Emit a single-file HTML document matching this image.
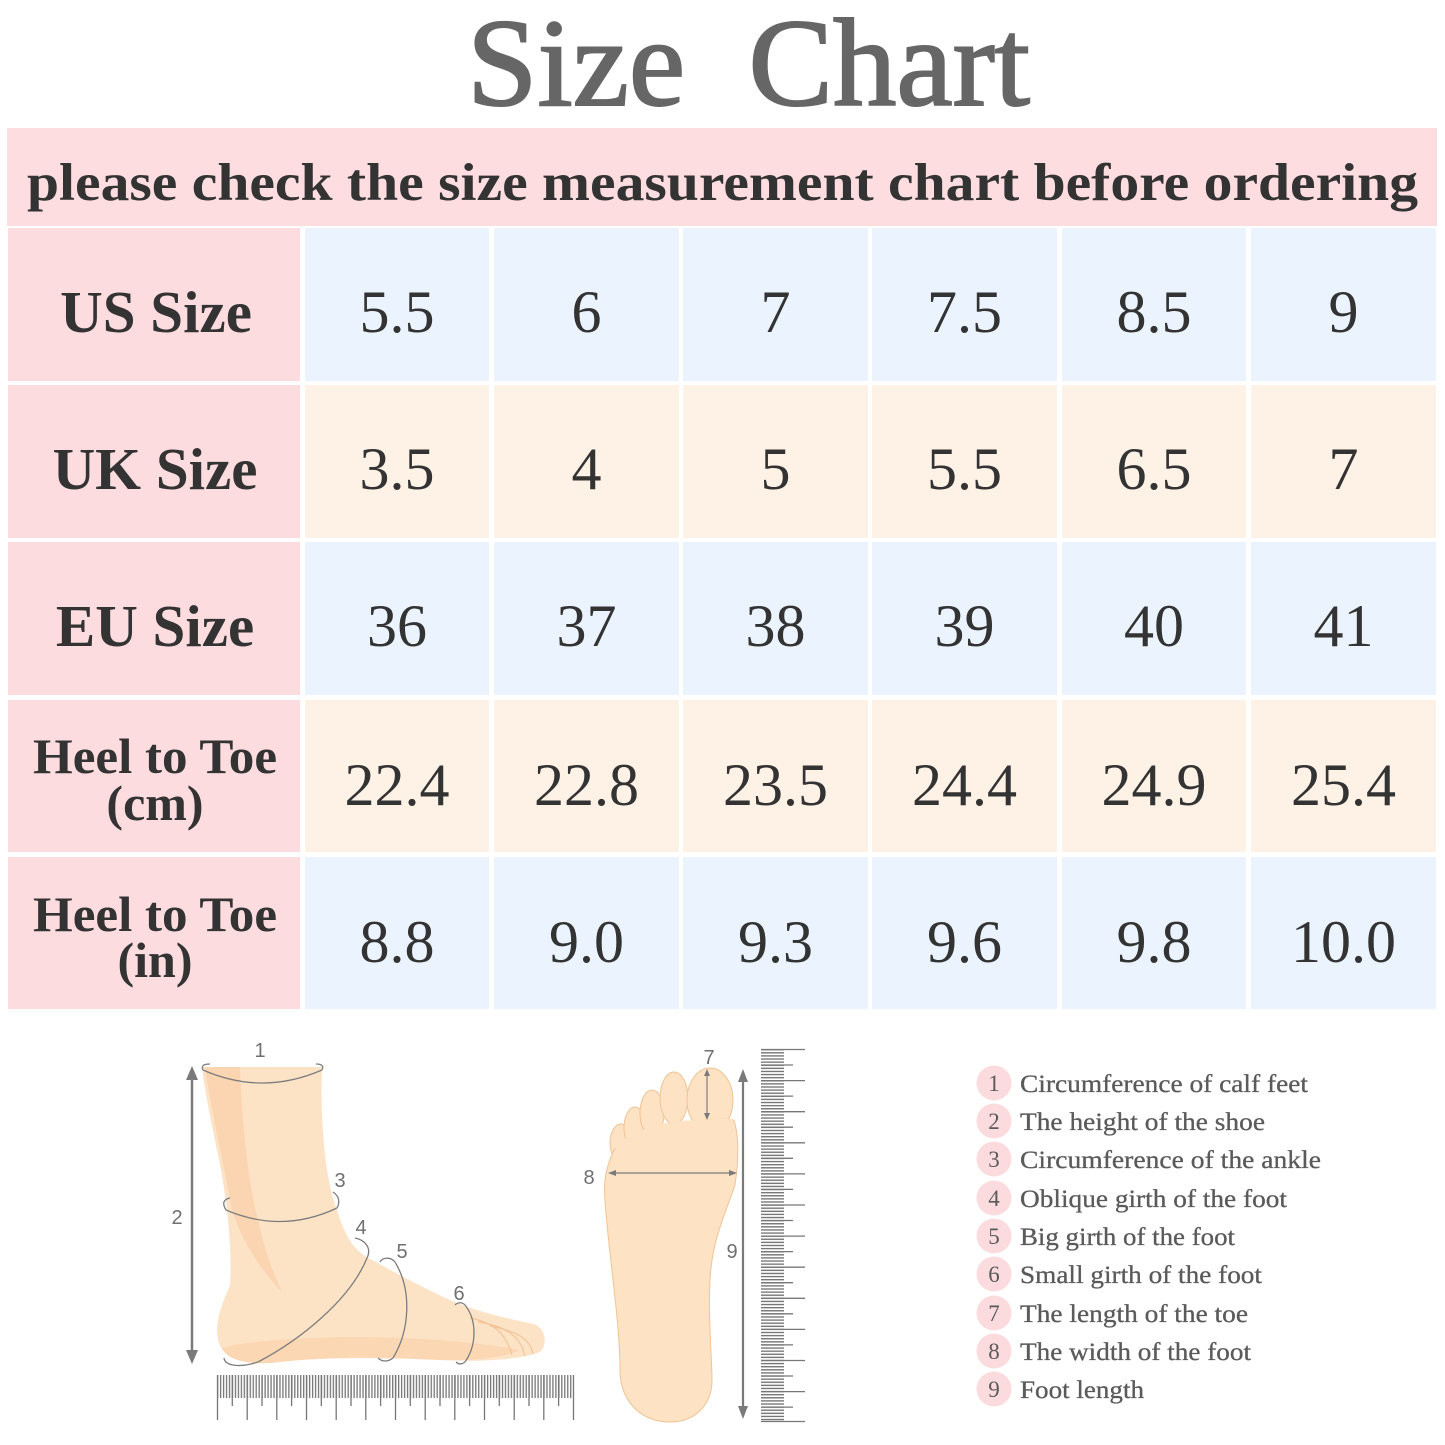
<!DOCTYPE html>
<html><head><meta charset="utf-8"><style>
html,body{margin:0;padding:0;background:#fff;}
svg{display:block;}
</style></head><body>
<svg xmlns="http://www.w3.org/2000/svg" width="1445" height="1445" viewBox="0 0 1445 1445">
<defs>
<pattern id="hticks" x="217" y="0" width="2.967" height="1445" patternUnits="userSpaceOnUse">
<rect x="0" y="0" width="1.3" height="1445" fill="#777"/>
</pattern>
<pattern id="vticks" x="0" y="1049" width="1445" height="3.108" patternUnits="userSpaceOnUse">
<rect x="0" y="0" width="1445" height="1.4" fill="#777"/>
</pattern>
</defs>
<rect width="1445" height="1445" fill="#fff"/>

<!-- Title -->
<text x="467" y="105" font-family="Liberation Serif, serif" font-size="125" fill="#666" stroke="#666" stroke-width="2" textLength="563" lengthAdjust="spacingAndGlyphs" xml:space="preserve">Size  Chart</text>

<!-- Subtitle band -->
<rect x="7" y="128" width="1430" height="98" fill="#fddde0"/>
<text x="27" y="200" font-family="Liberation Serif, serif" font-weight="bold" font-size="53" fill="#333" textLength="1391" lengthAdjust="spacingAndGlyphs">please check the size measurement chart before ordering</text>

<!-- Table -->
<g font-family="Liberation Serif, serif" fill="#333">
<rect x="8" y="228" width="292" height="153" fill="#fddcdf"/>
<rect x="8" y="385" width="292" height="153" fill="#fddcdf"/>
<rect x="8" y="542" width="292" height="153" fill="#fddcdf"/>
<rect x="8" y="700" width="292" height="152" fill="#fddcdf"/>
<rect x="8" y="857" width="292" height="152" fill="#fddcdf"/>

<g fill="#ebf4fe">
<rect x="305" y="228" width="184" height="153"/><rect x="494" y="228" width="185" height="153"/><rect x="683" y="228" width="185" height="153"/><rect x="872" y="228" width="185" height="153"/><rect x="1062" y="228" width="184" height="153"/><rect x="1251" y="228" width="185" height="153"/>
</g>
<g fill="#fef1e6">
<rect x="305" y="385" width="184" height="153"/><rect x="494" y="385" width="185" height="153"/><rect x="683" y="385" width="185" height="153"/><rect x="872" y="385" width="185" height="153"/><rect x="1062" y="385" width="184" height="153"/><rect x="1251" y="385" width="185" height="153"/>
</g>
<g fill="#ebf4fe">
<rect x="305" y="542" width="184" height="153"/><rect x="494" y="542" width="185" height="153"/><rect x="683" y="542" width="185" height="153"/><rect x="872" y="542" width="185" height="153"/><rect x="1062" y="542" width="184" height="153"/><rect x="1251" y="542" width="185" height="153"/>
</g>
<g fill="#fef1e6">
<rect x="305" y="700" width="184" height="152"/><rect x="494" y="700" width="185" height="152"/><rect x="683" y="700" width="185" height="152"/><rect x="872" y="700" width="185" height="152"/><rect x="1062" y="700" width="184" height="152"/><rect x="1251" y="700" width="185" height="152"/>
</g>
<g fill="#ebf4fe">
<rect x="305" y="857" width="184" height="152"/><rect x="494" y="857" width="185" height="152"/><rect x="683" y="857" width="185" height="152"/><rect x="872" y="857" width="185" height="152"/><rect x="1062" y="857" width="184" height="152"/><rect x="1251" y="857" width="185" height="152"/>
</g>

<g font-weight="bold" text-anchor="middle" fill="#333">
<text x="156" y="332" font-size="59">US Size</text>
<text x="155" y="489" font-size="59">UK Size</text>
<text x="155" y="646" font-size="59">EU Size</text>
<text x="155" y="773" font-size="50" textLength="244" lengthAdjust="spacingAndGlyphs">Heel to Toe</text>
<text x="155" y="820" font-size="50">(cm)</text>
<text x="155" y="931" font-size="50" textLength="244" lengthAdjust="spacingAndGlyphs">Heel to Toe</text>
<text x="155" y="977" font-size="50">(in)</text>
</g>

<g font-size="60" text-anchor="middle" fill="#333">
<text x="397" y="332">5.5</text><text x="586.5" y="332">6</text><text x="775.5" y="332">7</text><text x="964.5" y="332">7.5</text><text x="1154" y="332">8.5</text><text x="1343.5" y="332">9</text>
<text x="397" y="489">3.5</text><text x="586.5" y="489">4</text><text x="775.5" y="489">5</text><text x="964.5" y="489">5.5</text><text x="1154" y="489">6.5</text><text x="1343.5" y="489">7</text>
<text x="397" y="646">36</text><text x="586.5" y="646">37</text><text x="775.5" y="646">38</text><text x="964.5" y="646">39</text><text x="1154" y="646">40</text><text x="1343.5" y="646">41</text>
<text x="397" y="805">22.4</text><text x="586.5" y="805">22.8</text><text x="775.5" y="805">23.5</text><text x="964.5" y="805">24.4</text><text x="1154" y="805">24.9</text><text x="1343.5" y="805">25.4</text>
<text x="397" y="962">8.8</text><text x="586.5" y="962">9.0</text><text x="775.5" y="962">9.3</text><text x="964.5" y="962">9.6</text><text x="1154" y="962">9.8</text><text x="1343.5" y="962">10.0</text>
</g>
</g>

<!-- Side foot -->
<g>
<path d="M202 1067 L322 1067 C320 1120 325 1180 337 1210 C345 1235 352 1250 372 1260 C400 1275 430 1292 462 1305 C490 1315 515 1320 533 1324 C546 1327 548 1345 540 1352 C520 1360 480 1362 440 1360 C380 1357 320 1357 280 1362 C250 1366 222 1360 218 1340 C214 1320 224 1300 230 1285 C232 1250 228 1210 221 1170 C213 1130 205 1095 202 1067 Z" fill="#fde3c6"/>
<path d="M205 1067 L240 1067 C243 1150 253 1230 282 1292 C262 1272 241 1240 232 1210 C223 1160 211 1110 205 1067 Z" fill="#fbd5b1"/>
<path d="M222 1348 C250 1340 300 1338 350 1337 C420 1337 480 1342 520 1350 C500 1359 470 1361 440 1360 C380 1357 320 1357 280 1362 C250 1366 226 1360 222 1348 Z" fill="#fbd7b4"/>
<g fill="none" stroke="#f3c497" stroke-width="1.2">
<path d="M470 1318 C490 1322 505 1330 512 1355"/>
<path d="M478 1322 C500 1325 520 1333 525 1356"/>
<path d="M490 1326 C510 1330 530 1336 533 1354"/>
</g>
<g fill="none" stroke="#7d7d7d" stroke-width="1.3">
<path d="M203 1070 Q262 1096 322 1070"/>
<path d="M203 1070 Q200 1064 210 1064 M322 1070 Q325 1064 316 1064"/>
<path d="M226 1210 Q282 1234 337 1208"/>
<path d="M226 1210 Q220 1200 230 1198 M337 1208 Q342 1198 333 1192"/>
<path d="M258 1362 C300 1340 350 1300 367 1258"/>
<path d="M258 1362 C240 1368 225 1366 224 1358 M367 1258 C372 1248 365 1240 355 1238"/>
<path d="M395 1262 C412 1290 410 1330 393 1358"/>
<path d="M395 1262 C390 1256 382 1258 380 1262 M393 1358 C388 1362 382 1362 378 1358"/>
<path d="M465 1305 C477 1320 477 1345 465 1362"/>
<path d="M465 1305 C462 1302 458 1302 455 1305 M465 1362 C461 1365 458 1364 456 1362"/>
</g>
<line x1="192" y1="1076" x2="192" y2="1354" stroke="#7a7a7a" stroke-width="2.5"/>
<polygon points="192,1066 186,1080 198,1080" fill="#7a7a7a"/>
<polygon points="192,1364 186,1350 198,1350" fill="#7a7a7a"/>
<rect x="217" y="1375" width="357" height="23" fill="url(#hticks)"/>
<g stroke="#777" stroke-width="1.3">
<line x1="217.5" y1="1375" x2="217.5" y2="1420"/><line x1="247.2" y1="1375" x2="247.2" y2="1420"/><line x1="276.8" y1="1375" x2="276.8" y2="1420"/><line x1="306.5" y1="1375" x2="306.5" y2="1420"/><line x1="336.2" y1="1375" x2="336.2" y2="1420"/><line x1="365.8" y1="1375" x2="365.8" y2="1420"/><line x1="395.5" y1="1375" x2="395.5" y2="1420"/><line x1="425.2" y1="1375" x2="425.2" y2="1420"/><line x1="454.8" y1="1375" x2="454.8" y2="1420"/><line x1="484.5" y1="1375" x2="484.5" y2="1420"/><line x1="514.2" y1="1375" x2="514.2" y2="1420"/><line x1="543.8" y1="1375" x2="543.8" y2="1420"/><line x1="573.5" y1="1375" x2="573.5" y2="1420"/>
<line x1="232.3" y1="1375" x2="232.3" y2="1406"/><line x1="262" y1="1375" x2="262" y2="1406"/><line x1="291.6" y1="1375" x2="291.6" y2="1406"/><line x1="321.3" y1="1375" x2="321.3" y2="1406"/><line x1="351" y1="1375" x2="351" y2="1406"/><line x1="380.6" y1="1375" x2="380.6" y2="1406"/><line x1="410.3" y1="1375" x2="410.3" y2="1406"/><line x1="440" y1="1375" x2="440" y2="1406"/><line x1="469.6" y1="1375" x2="469.6" y2="1406"/><line x1="499.3" y1="1375" x2="499.3" y2="1406"/><line x1="529" y1="1375" x2="529" y2="1406"/><line x1="558.6" y1="1375" x2="558.6" y2="1406"/>
</g>
</g>

<!-- Sole view -->
<g>
<g fill="#fde3c3" stroke="#f0c395" stroke-width="1">
<ellipse cx="621" cy="1143" rx="11" ry="19"/>
<ellipse cx="635" cy="1128" rx="11" ry="21"/>
<ellipse cx="652" cy="1113" rx="12" ry="23"/>
<ellipse cx="674" cy="1098" rx="14" ry="26"/>
<ellipse cx="710" cy="1100" rx="23" ry="32"/>
</g>
<path d="M670 1422 C640 1422 620 1400 620 1370 C620 1320 608 1250 605 1200 C603 1180 607 1165 614 1150 C630 1132 660 1122 690 1121 C712 1120 728 1118 734 1120 C740 1140 738 1165 735 1185 C725 1215 712 1240 710 1280 C708 1320 712 1360 712 1380 C712 1405 695 1422 670 1422 Z" fill="#fde3c3" stroke="#f0c395" stroke-width="1"/>
<path d="M616 1149 C630 1133 660 1123 690 1122 C712 1121 728 1119 733 1121" fill="none" stroke="#fde3c3" stroke-width="3"/>
<g stroke="#7a7a7a" fill="none" stroke-width="1.2">
<line x1="610" y1="1173" x2="735" y2="1173"/>
<line x1="707" y1="1071" x2="707" y2="1118"/>
</g>
<polygon points="608,1173 616,1170 616,1176" fill="#7a7a7a"/>
<polygon points="737,1173 729,1170 729,1176" fill="#7a7a7a"/>
<polygon points="707,1069 704,1076 710,1076" fill="#7a7a7a"/>
<polygon points="707,1120 704,1113 710,1113" fill="#7a7a7a"/>
<line x1="743" y1="1078" x2="743" y2="1410" stroke="#7a7a7a" stroke-width="2.2"/>
<polygon points="743,1069 738,1082 748,1082" fill="#7a7a7a"/>
<polygon points="743,1419 738,1406 748,1406" fill="#7a7a7a"/>
<rect x="761" y="1049" width="23" height="373" fill="url(#vticks)"/>
<g stroke="#777" stroke-width="1.3">
<line x1="761" y1="1049.5" x2="805" y2="1049.5"/><line x1="761" y1="1080.6" x2="805" y2="1080.6"/><line x1="761" y1="1111.7" x2="805" y2="1111.7"/><line x1="761" y1="1142.8" x2="805" y2="1142.8"/><line x1="761" y1="1173.9" x2="805" y2="1173.9"/><line x1="761" y1="1205" x2="805" y2="1205"/><line x1="761" y1="1236.1" x2="805" y2="1236.1"/><line x1="761" y1="1267.2" x2="805" y2="1267.2"/><line x1="761" y1="1298.3" x2="805" y2="1298.3"/><line x1="761" y1="1329.4" x2="805" y2="1329.4"/><line x1="761" y1="1360.5" x2="805" y2="1360.5"/><line x1="761" y1="1391.6" x2="805" y2="1391.6"/><line x1="761" y1="1421.5" x2="805" y2="1421.5"/>
<line x1="761" y1="1065" x2="793" y2="1065"/><line x1="761" y1="1096.1" x2="793" y2="1096.1"/><line x1="761" y1="1127.2" x2="793" y2="1127.2"/><line x1="761" y1="1158.3" x2="793" y2="1158.3"/><line x1="761" y1="1189.4" x2="793" y2="1189.4"/><line x1="761" y1="1220.5" x2="793" y2="1220.5"/><line x1="761" y1="1251.6" x2="793" y2="1251.6"/><line x1="761" y1="1282.7" x2="793" y2="1282.7"/><line x1="761" y1="1313.8" x2="793" y2="1313.8"/><line x1="761" y1="1344.9" x2="793" y2="1344.9"/><line x1="761" y1="1376" x2="793" y2="1376"/><line x1="761" y1="1407.1" x2="793" y2="1407.1"/>
</g>
</g>

<g font-family="Liberation Sans, sans-serif" font-size="20" fill="#707070" text-anchor="middle">
<text x="260" y="1057">1</text>
<text x="177" y="1224">2</text>
<text x="340" y="1187">3</text>
<text x="361" y="1234">4</text>
<text x="402" y="1258">5</text>
<text x="459" y="1300">6</text>
<text x="709" y="1064">7</text>
<text x="589" y="1184">8</text>
<text x="732" y="1258">9</text>
</g>

<g fill="#fcdbde">
<circle cx="994" cy="1083" r="17.5"/><circle cx="994" cy="1121" r="17.5"/><circle cx="994" cy="1159" r="17.5"/><circle cx="994" cy="1198" r="17.5"/><circle cx="994" cy="1236" r="17.5"/><circle cx="994" cy="1274" r="17.5"/><circle cx="994" cy="1313" r="17.5"/><circle cx="994" cy="1351" r="17.5"/><circle cx="994" cy="1389" r="17.5"/>
</g>
<g font-family="Liberation Serif, serif" font-size="23" fill="#5a5a5a" text-anchor="middle">
<text x="994" y="1091">1</text><text x="994" y="1129">2</text><text x="994" y="1167">3</text><text x="994" y="1206">4</text><text x="994" y="1244">5</text><text x="994" y="1282">6</text><text x="994" y="1321">7</text><text x="994" y="1359">8</text><text x="994" y="1397">9</text>
</g>
<g font-family="Liberation Serif, serif" font-size="25" fill="#5a5a5a" stroke="#5a5a5a" stroke-width="0.3">
<text x="1020" y="1092" textLength="288" lengthAdjust="spacingAndGlyphs">Circumference of calf feet</text>
<text x="1020" y="1130" textLength="245" lengthAdjust="spacingAndGlyphs">The height of the shoe</text>
<text x="1020" y="1168" textLength="301" lengthAdjust="spacingAndGlyphs">Circumference of the ankle</text>
<text x="1020" y="1207" textLength="267" lengthAdjust="spacingAndGlyphs">Oblique girth of the foot</text>
<text x="1020" y="1245" textLength="215" lengthAdjust="spacingAndGlyphs">Big girth of the foot</text>
<text x="1020" y="1283" textLength="242" lengthAdjust="spacingAndGlyphs">Small girth of the foot</text>
<text x="1020" y="1322" textLength="228" lengthAdjust="spacingAndGlyphs">The length of the toe</text>
<text x="1020" y="1360" textLength="231" lengthAdjust="spacingAndGlyphs">The width of the foot</text>
<text x="1020" y="1398" textLength="124" lengthAdjust="spacingAndGlyphs">Foot length</text>
</g>
</svg>
</body></html>
